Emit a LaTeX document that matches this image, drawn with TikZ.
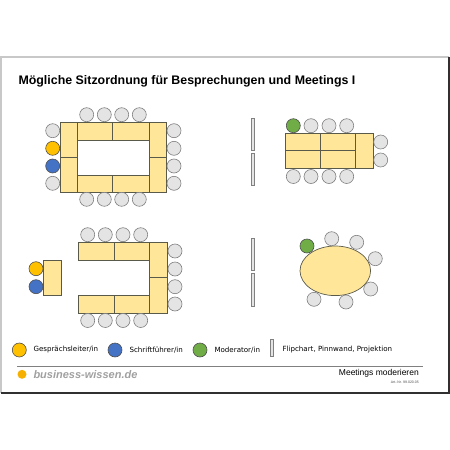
\documentclass[tikz,border=0pt]{standalone}
\usepackage{fontspec}
\setmainfont{Liberation Sans}
\newfontfamily\legfont{DejaVu Sans}
\definecolor{tablefill}{HTML}{FFE699}
\definecolor{tableline}{HTML}{5A5A4A}
\definecolor{chairfill}{HTML}{E4E4E4}
\definecolor{chairline}{HTML}{808080}
\definecolor{leadc}{HTML}{FFC000}
\definecolor{scribec}{HTML}{4472C4}
\definecolor{modc}{HTML}{70AD47}
\definecolor{personline}{HTML}{505050}
\definecolor{frametop}{HTML}{C8C8C8}
\definecolor{framebot}{HTML}{303030}
\definecolor{logogrey}{HTML}{A0A0A0}
\definecolor{logodot}{HTML}{F5B000}
\begin{document}
\begin{tikzpicture}[x=1pt,y=-1pt,
  tablebox/.style={fill=tablefill,draw=tableline,line width=0.7pt},
  chair/.style={circle,minimum size=14pt,inner sep=0pt,fill=chairfill,draw=chairline,line width=0.6pt},
  leadp/.style={chair,fill=leadc,draw=personline},
  scribep/.style={chair,fill=scribec,draw=personline},
  modp/.style={chair,fill=modc,draw=personline},
  flipbox/.style={fill=chairfill,draw=chairline,line width=0.6pt},
  legtext/.style={anchor=west,inner sep=0pt,font=\legfont\fontsize{7.1}{8.5}\selectfont}]
\useasboundingbox (0,0) rectangle (450,450);
% frame
\draw[frametop,line width=1.2pt] (1,393) -- (1,57) -- (449,57);
\draw[framebot,line width=1.2pt] (449,57) -- (449,393) -- (1,393);
% title
\node[anchor=west,inner sep=0pt,font=\bfseries\fontsize{12.4}{14}\selectfont] (title) at (18.3,81.5) {Mögliche Sitzordnung für Besprechungen und Meetings I};
% ---------- layout 1 ----------
\draw[tablebox] (60,122) rectangle (77.3,157.3);
\draw[tablebox] (60,157.3) rectangle (77.3,192.7);
\draw[tablebox] (77.3,122) rectangle (112.7,140);
\draw[tablebox] (112.7,122) rectangle (149,140);
\draw[tablebox] (77.3,175) rectangle (112.7,192.7);
\draw[tablebox] (112.7,175) rectangle (149,192.7);
\draw[tablebox] (149,122) rectangle (166.7,157.3);
\draw[tablebox] (149,157.3) rectangle (166.7,192.7);
\foreach \x [count=\i] in {86.7,104.3,121.7,139.3}{
  \node[chair] (at\i) at (\x,114.7) {};
  \node[chair] (ab\i) at (\x,199.3) {};
}
\node[chair] (al1) at (52.7,130.7) {};
\node[leadp] (al2) at (52.7,148.3) {};
\node[scribep] (al3) at (52.7,166) {};
\node[chair] (al4) at (52.7,183.3) {};
\foreach \y [count=\i] in {130.7,148.3,166,183.3}{
  \node[chair] (ar\i) at (174,\y) {};
}
% ---------- layout 2 ----------
\draw[flipbox] (251,118.3) rectangle (254.7,150);
\draw[flipbox] (251,153.3) rectangle (254.7,185.3);
\draw[tablebox] (285,133) rectangle (320.7,150.7);
\draw[tablebox] (320.7,133) rectangle (355.7,150.7);
\draw[tablebox] (285,150.7) rectangle (320.7,168.3);
\draw[tablebox] (320.7,150.7) rectangle (355.7,168.3);
\draw[tablebox] (355.7,133) rectangle (373.3,168.3);
\node[modp] (bt1) at (293.3,125.7) {};
\node[chair] (bt2) at (311,125.7) {};
\node[chair] (bt3) at (329,125.7) {};
\node[chair] (bt4) at (346.7,125.7) {};
\foreach \x [count=\i] in {293.3,311,329,346.7}{
  \node[chair] (bb\i) at (\x,176.5) {};
}
\node[chair] (br1) at (380.7,142) {};
\node[chair] (br2) at (380.7,160) {};
% ---------- layout 3 ----------
\draw[tablebox] (43.3,260) rectangle (61.7,295.3);
\node[leadp] (cl1) at (36,268.7) {};
\node[scribep] (cl2) at (36,286.7) {};
\draw[tablebox] (78.7,242.3) rectangle (114.3,260);
\draw[tablebox] (114.3,242.3) rectangle (149.3,260);
\draw[tablebox] (78.7,295.3) rectangle (114.3,313);
\draw[tablebox] (114.3,295.3) rectangle (149.3,313);
\draw[tablebox] (149.3,242.3) rectangle (167.3,277.7);
\draw[tablebox] (149.3,277.7) rectangle (167.3,313);
\foreach \x [count=\i] in {87.7,105.3,123,140.7}{
  \node[chair] (ct\i) at (\x,234.7) {};
  \node[chair] (cb\i) at (\x,320.5) {};
}
\foreach \y [count=\i] in {251,269,286.7,304}{
  \node[chair] (cr\i) at (175,\y) {};
}
% ---------- layout 4 ----------
\draw[flipbox] (251.3,238.3) rectangle (254.7,270.3);
\draw[flipbox] (251.3,273.7) rectangle (254.7,306);
\draw[tablebox] (335.3,270.8) ellipse [x radius=35.3, y radius=24.8];
\node[modp] (d1) at (307,246) {};
\node[chair] (d2) at (331.7,238.7) {};
\node[chair] (d3) at (356.7,242.3) {};
\node[chair] (d4) at (375.3,258.7) {};
\node[chair] (d5) at (370.7,289) {};
\node[chair] (d6) at (346,302) {};
\node[chair] (d7) at (314,299.3) {};
% ---------- legend ----------
\node[leadp] (lg1) at (19.3,350) {};
\node[legtext] (lt1) at (33.3,350) {Gesprächsleiter/in};
\node[scribep] (lg2) at (115,350) {};
\node[legtext] (lt2) at (129.3,350) {Schriftführer/in};
\node[modp] (lg3) at (200,350) {};
\node[legtext] (lt3) at (214.3,350) {Moderator/in};
\draw[flipbox] (270,339) rectangle (273.3,356);
\node[legtext] (lt4) at (282.3,350) {Flipchart, Pinnwand, Projektion};
\draw[chairline,line width=0.6pt] (17.3,366) -- (423.3,366);
% footer
\fill[logodot] (22,374.3) circle (4.5);
\node[anchor=west,inner sep=0pt,text=logogrey,font=\bfseries\itshape\fontsize{11}{13}\selectfont] (logo) at (33.3,375) {business-wissen.de};
\node[anchor=east,inner sep=0pt,font=\fontsize{8.5}{10}\selectfont] (ft1) at (419,373.5) {Meetings moderieren};
\node[anchor=east,inner sep=0pt,text=black!70,font=\fontsize{3.5}{4}\selectfont] (ft2) at (419,382.5) {Art.-Nr. 99.020.05};
\end{tikzpicture}
\end{document}
